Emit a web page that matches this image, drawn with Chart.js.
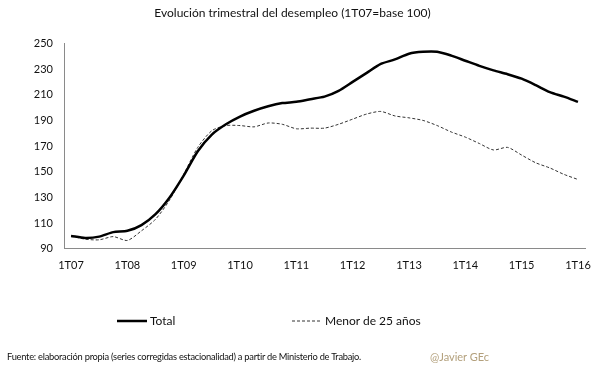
<!DOCTYPE html>
<html>
<head>
<meta charset="utf-8">
<script src="https://cdn.jsdelivr.net/npm/chart.js@4/dist/chart.umd.min.js"></script>
<style>
  html, body { margin: 0; padding: 0; background: #fff; }
  #wrap { position: relative; width: 605px; height: 378px; overflow: hidden; font-family: Lato, "Open Sans", sans-serif; }
  #c { position: absolute; left: 0; top: 0; }
  #legend { position: absolute; top: 313px; left: 0; width: 605px; height: 16px; }
  .li { position: absolute; top: 0; display: flex; align-items: center; font-size: 12px; color: #111; white-space: nowrap; }
  .li canvas { margin-right: 3px; }
  #src { position: absolute; left: 7px; top: 351px; font-size: 9.3px; color: #111; white-space: nowrap; letter-spacing: -0.25px; }
  #sig { position: absolute; left: 430px; top: 350px; font-size: 11px; color: #b3a07c; white-space: nowrap; }
</style>
</head>
<body>
<div id="wrap">
  <canvas id="c" width="605" height="378"></canvas>
  <div id="legend"></div>
  <div id="src">Fuente:  elaboración propia (series corregidas estacionalidad) a partir de Ministerio de Trabajo.</div>
  <div id="sig">@Javier GEc</div>
</div>
<script>
const quarters = ["1T07","2T07","3T07","4T07","1T08","2T08","3T08","4T08","1T09","2T09","3T09","4T09",
  "1T10","2T10","3T10","4T10","1T11","2T11","3T11","4T11","1T12","2T12","3T12","4T12",
  "1T13","2T13","3T13","4T13","1T14","2T14","3T14","4T14","1T15","2T15","3T15","4T15","1T16"];
const totalValues = [100, 98.5, 99.5, 103, 104, 108.5, 117, 130, 147, 166, 179, 187,
  193, 197.5, 201, 203.5, 204.5, 206.5, 208.5, 213, 220, 227, 234, 237.5,
  242, 243.5, 243.5, 240.5, 236.5, 232.5, 229, 226, 222.5, 217.5, 212, 208.5, 204.5];
const youngValues = [100, 97.5, 97, 99.5, 96.5, 104, 113, 128, 148, 169, 182, 186,
  186, 185, 188, 187, 183.5, 184, 184, 187, 191, 195, 197, 193.5,
  192, 190, 186, 181, 177, 172, 167, 169, 163, 157, 153, 148, 144];
const seriesNames = ["Total", "Menor de 25 años"];
const yTicks = [90, 110, 130, 150, 170, 190, 210, 230, 250];

const legendX = [117, 292];
const htmlLegend = {
  id: 'htmlLegend',
  afterUpdate(chart) {
    const box = document.getElementById('legend');
    box.innerHTML = '';
    const items = chart.options.plugins.legend.labels.generateLabels(chart);
    items.forEach((item, i) => {
      const el = document.createElement('div');
      el.className = 'li';
      el.style.left = legendX[i] + 'px';
      const cv = document.createElement('canvas');
      cv.width = 30; cv.height = 8;
      const cx = cv.getContext('2d');
      cx.strokeStyle = item.strokeStyle;
      cx.lineWidth = item.lineWidth;
      cx.setLineDash(item.lineDash || []);
      cx.beginPath(); cx.moveTo(0, 4); cx.lineTo(30, 4); cx.stroke();
      el.appendChild(cv);
      const t = document.createElement('span');
      t.textContent = item.text;
      el.appendChild(t);
      box.appendChild(el);
    });
  }
};

new Chart(document.getElementById('c'), {
  type: 'line',
  data: {
    labels: quarters,
    datasets: [
      { label: seriesNames[0], data: totalValues, borderColor: '#000', backgroundColor: '#000',
        borderWidth: 2.5, pointRadius: 0, tension: 0.25, fill: false },
      { label: seriesNames[1], data: youngValues, borderColor: '#333', backgroundColor: '#333',
        borderWidth: 1, borderDash: [3, 2], pointRadius: 0, tension: 0.25, fill: false }
    ]
  },
  options: {
    responsive: false,
    animation: false,
    layout: { padding: { left: 0, right: 20, top: 0, bottom: 96 } },
    plugins: {
      legend: { display: false },
      tooltip: { enabled: false },
      title: {
        display: true,
        text: 'Evolución trimestral del desempleo (1T07=base 100)',
        color: '#111',
        font: { family: 'Lato', size: 12, weight: 'normal' },
        padding: { top: 6, bottom: 23 }
      }
    },
    scales: {
      x: {
        offset: true,
        grid: { display: false, drawTicks: false },
        border: { display: true, color: '#8a8a8a', width: 1 },
        ticks: {
          autoSkip: false, maxRotation: 0, padding: 10, color: '#111',
          font: { family: 'Lato', size: 11 },
          callback: function(v, i) { return i % 4 === 0 ? quarters[i] : ''; }
        }
      },
      y: {
        min: 90, max: 250,
        afterFit: function(s) { s.width = 64; },
        afterBuildTicks: function(s) { s.ticks = yTicks.map(v => ({ value: v })); },
        grid: { display: false, drawTicks: false },
        border: { display: true, color: '#8a8a8a', width: 1 },
        ticks: { padding: 11, color: '#111', font: { family: 'Lato', size: 11 } }
      }
    }
  },
  plugins: [htmlLegend]
});
</script>
</body>
</html>
